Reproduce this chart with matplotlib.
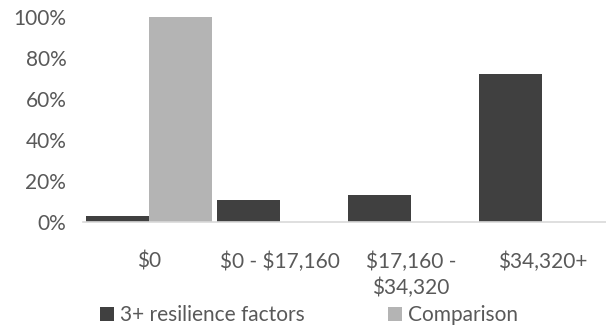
import numpy as np
import matplotlib.pyplot as plt

# Income categories and shares for each group
categories = ["$0", "$0 - $17,160", "$17,160 -\n$34,320", "$34,320+"]
resilient = [3, 11, 13, 72]
comparison = [100, 0, 0, 0]

plt.rcParams['font.family'] = ['Lato', 'DejaVu Sans']
plt.rcParams['text.parse_math'] = False

fig = plt.figure(figsize=(6.06, 3.29), dpi=100)
ax = fig.add_axes([0.137, 0.325, 0.866, 0.623])

x = np.arange(len(categories))
w = 0.48
ax.bar(x - w / 2, resilient, w, color='#404040', label='3+ resilience factors')
ax.bar(x + w / 2, comparison, w, color='#b4b4b4', label='Comparison')

ax.set_xlim(-0.5, 3.5)
ax.set_ylim(0, 100)
ax.set_yticks(np.arange(0, 101, 20))
ax.set_yticklabels([str(v) + "%" for v in range(0, 101, 20)])
ax.set_xticks(x)
ax.set_xticklabels(categories, linespacing=1.35)

for s in ['top', 'right', 'left']:
    ax.spines[s].set_visible(False)
ax.spines['bottom'].set_color('#d9d9d9')
ax.spines['bottom'].set_linewidth(1.2)
ax.tick_params(axis='both', length=0, colors='#595959', labelsize=15)
ax.tick_params(axis='x', pad=21)
ax.tick_params(axis='y', pad=12)

leg = fig.legend(loc='lower center', bbox_to_anchor=(0.51, -0.045), ncol=2, frameon=False,
                 fontsize=15, handlelength=0.65, handleheight=0.65, handletextpad=0.3,
                 columnspacing=4.0)
for t in leg.get_texts():
    t.set_color('#595959')

plt.savefig("out.png", dpi=100)
